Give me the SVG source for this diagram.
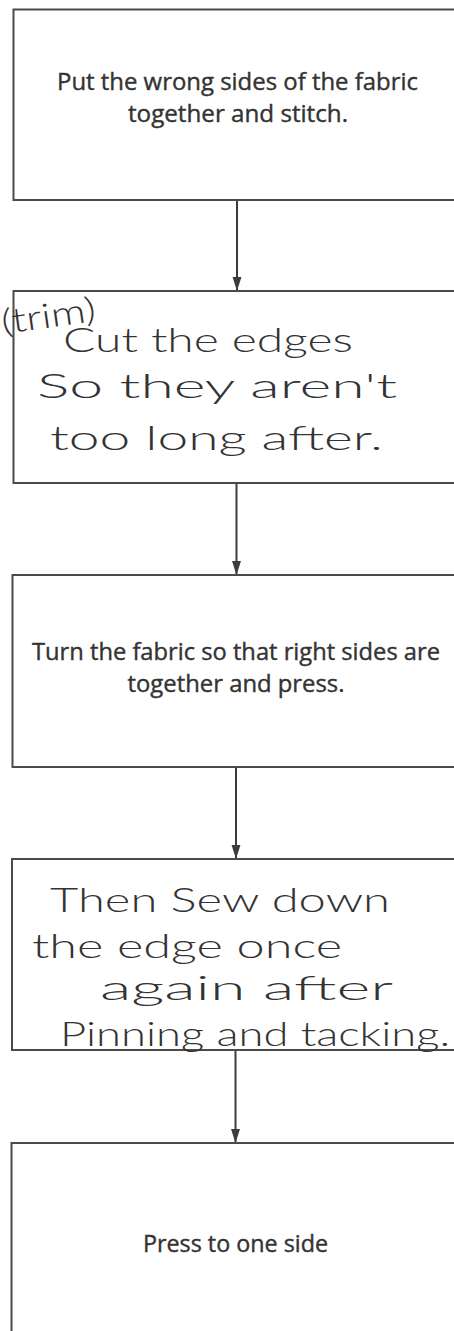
<svg xmlns="http://www.w3.org/2000/svg" width="454" height="1331" viewBox="0 0 454 1331">
<style>
.box{fill:#fff;stroke:#4a4a4a;stroke-width:2}
.print{font-family:"Open Sans","Liberation Sans",sans-serif;font-size:24px;fill:#333;stroke:#333;stroke-width:0.4;text-anchor:middle}
.hand{font-family:"Lato","DejaVu Sans",sans-serif;font-weight:300;font-size:34px;fill:#333}
.conn{stroke:#3c3c3c;stroke-width:2;fill:none}
</style>
<defs>
<marker id="arr" markerUnits="userSpaceOnUse" markerWidth="14" markerHeight="22" refX="22" refY="7" orient="auto" viewBox="0 0 22 14">
<path d="M0,0 L22,7 L0,14 Z" fill="#3c3c3c"/>
</marker>
</defs>
<rect width="454" height="1331" fill="#fff"/>
<g id="connectors">
<line class="conn" x1="237" y1="200" x2="237" y2="291" marker-end="url(#arr)"/>
<line class="conn" x1="236.5" y1="483" x2="236.5" y2="575" marker-end="url(#arr)"/>
<line class="conn" x1="236" y1="767" x2="236" y2="859" marker-end="url(#arr)"/>
<line class="conn" x1="235.5" y1="1050" x2="235.5" y2="1143" marker-end="url(#arr)"/>
</g>
<g id="node1">
<rect class="box" x="13.5" y="9.5" width="460" height="190.5"/>
<text class="print" x="237.5" y="90" textLength="361" lengthAdjust="spacingAndGlyphs">Put the wrong sides of the fabric</text>
<text class="print" x="238" y="122" textLength="220" lengthAdjust="spacingAndGlyphs">together and stitch.</text>
</g>
<g id="node2">
<rect class="box" x="13.5" y="291" width="460" height="192"/>
<text class="hand" x="3" y="334" font-size="22" textLength="95" lengthAdjust="spacingAndGlyphs" transform="rotate(-8 3 334)">(trim)</text>
<text class="hand" x="63" y="352" textLength="290" lengthAdjust="spacingAndGlyphs">Cut the edges</text>
<text class="hand" x="37" y="398" textLength="360" lengthAdjust="spacingAndGlyphs">So they aren't</text>
<text class="hand" x="50" y="450" textLength="333" lengthAdjust="spacingAndGlyphs">too long after.</text>
</g>
<g id="node3">
<rect class="box" x="12.5" y="575" width="460" height="192"/>
<text class="print" x="236" y="660" textLength="408" lengthAdjust="spacingAndGlyphs">Turn the fabric so that right sides are</text>
<text class="print" x="236" y="692" textLength="217" lengthAdjust="spacingAndGlyphs">together and press.</text>
</g>
<g id="node4">
<rect class="box" x="12" y="859" width="460" height="191"/>
<text class="hand" x="50" y="912" textLength="340" lengthAdjust="spacingAndGlyphs">Then Sew down</text>
<text class="hand" x="32" y="958" textLength="310" lengthAdjust="spacingAndGlyphs">the edge once</text>
<text class="hand" x="100" y="1000" textLength="293" lengthAdjust="spacingAndGlyphs">again after</text>
<text class="hand" x="60" y="1046" textLength="390" lengthAdjust="spacingAndGlyphs">Pinning and tacking.</text>
</g>
<g id="node5">
<rect class="box" x="11.5" y="1143" width="460" height="200"/>
<text class="print" x="235.5" y="1252" textLength="185" lengthAdjust="spacingAndGlyphs">Press to one side</text>
</g>
</svg>
